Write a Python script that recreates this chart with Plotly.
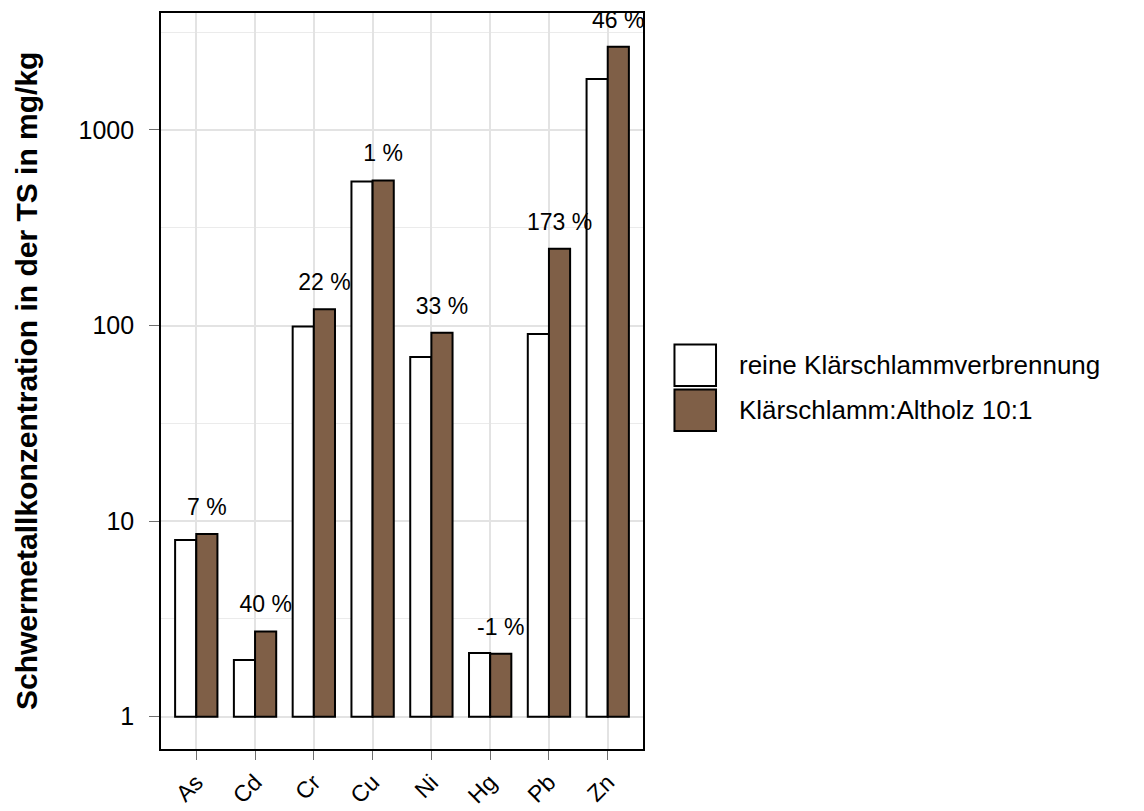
import plotly.graph_objects as go

# ---- data ----
elements = ["As", "Cd", "Cr", "Cu", "Ni", "Hg", "Pb", "Zn"]
rein = [8.0, 1.95, 99, 545, 69, 2.12, 90.5, 1820]
mix = [8.6, 2.73, 121, 551, 92, 2.10, 247, 2660]
pct_labels = ["7 %", "40 %", "22 %", "1 %", "33 %", "-1 %", "173 %", "46 %"]
series_names = ["reine Klärschlammverbrennung", "Klärschlamm:Altholz 10:1"]
series_colors = ["#FFFFFF", "#7F5F47"]
y_ticks = [1, 10, 100, 1000]
y_minor = [10 ** 0.5, 10 ** 1.5, 10 ** 2.5, 10 ** 3.5]

FONT = "Liberation Sans, Arial, sans-serif"
idx = list(range(len(elements)))
BW = 0.36
label_factor = 1.34  # label sits a fixed distance above the bar (log scale)

fig = go.Figure()
for name, vals, col, off in [(series_names[0], rein, series_colors[0], -BW),
                             (series_names[1], mix, series_colors[1], 0.0)]:
    fig.add_trace(go.Bar(
        x=idx, y=[v - 1 for v in vals], base=1,
        width=BW, offset=off, name=name,
        marker=dict(color=col, line=dict(color="black", width=2)),
        showlegend=False,
    ))

fig.add_trace(go.Scatter(
    x=[i + BW / 2 for i in idx], y=[v * label_factor for v in mix],
    mode="text", text=pct_labels, textposition="middle center",
    textfont=dict(family=FONT, size=23, color="black"),
    cliponaxis=True, showlegend=False, hoverinfo="skip",
))

# custom legend (large keys)
legend_rows = [(0.5496, 0.4932, 0.5217), (0.4885, 0.4321, 0.4606)]
for (y1, y0, yc), name, col in zip(legend_rows, series_names, series_colors):
    fig.add_shape(type="rect", xref="paper", yref="paper",
                  x0=1.0653, x1=1.1515, y0=y0, y1=y1,
                  fillcolor=col, line=dict(color="black", width=2))
    fig.add_annotation(xref="paper", yref="paper", x=1.195, y=yc,
                       text=name, showarrow=False, xanchor="left", yanchor="middle",
                       font=dict(family=FONT, size=26, color="black"))

# y-axis title
fig.add_annotation(xref="paper", yref="paper", x=-0.28, y=0.5,
                   text="<b>Schwermetallkonzentration in der TS in mg/kg</b>",
                   textangle=-90, showarrow=False, xanchor="center", yanchor="middle",
                   font=dict(family=FONT, size=30, color="black"))

fig.update_layout(
    width=1128, height=803,
    margin=dict(l=153, r=493, t=5, b=62, autoexpand=False),
    paper_bgcolor="white", plot_bgcolor="white",
    barmode="overlay",
    font=dict(family=FONT, size=24, color="black"),
    showlegend=False,
)
fig.update_xaxes(
    automargin=False,
    range=[-0.6, 7.6], tickvals=idx, ticktext=elements, tickangle=-45,
    showgrid=True, gridcolor="#e3e3e3", gridwidth=1.6,
    showline=True, linecolor="black", linewidth=1.6, mirror=True,
    ticks="outside", ticklen=9, tickcolor="#6e6e6e", tickwidth=1.2,
    zeroline=False, tickfont=dict(family=FONT, size=23, color="black"),
)
fig.update_yaxes(
    automargin=False,
    type="log", range=[-0.165, 3.598],
    tickvals=y_ticks, ticktext=[str(t) for t in y_ticks],
    showgrid=True, gridcolor="#e3e3e3", gridwidth=1.6,
    minor=dict(tickvals=y_minor, showgrid=True, gridcolor="#ebebeb", gridwidth=1.2, ticklen=0),
    showline=True, linecolor="black", linewidth=1.6, mirror=True,
    ticks="outside", ticklen=10, tickcolor="#6e6e6e", tickwidth=1.2,
    ticklabelstandoff=10,
    zeroline=False, tickfont=dict(family=FONT, size=25, color="black"),
)

fig.write_html("out.html")
